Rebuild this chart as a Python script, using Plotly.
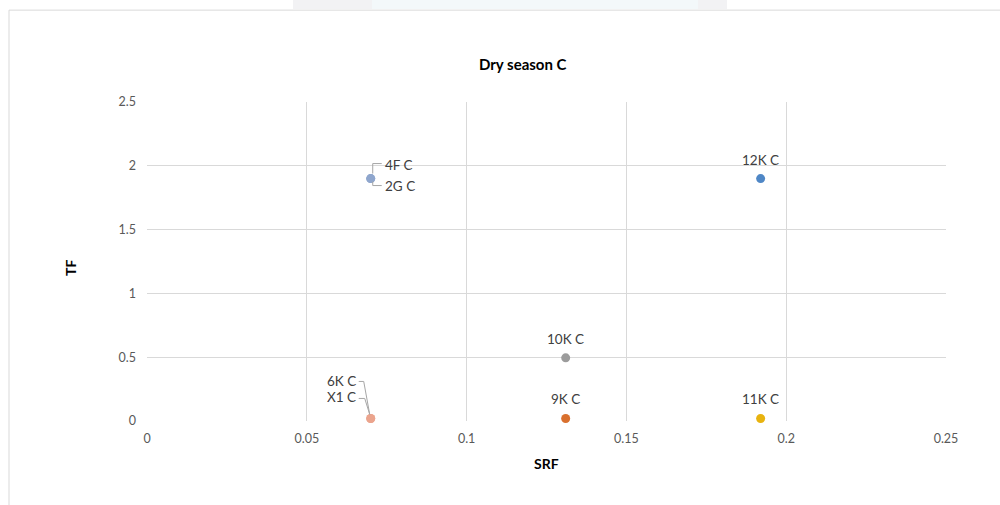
import plotly.graph_objects as go

# Sample sites and their factors
sites = ["4F C", "2G C", "12K C", "10K C", "9K C", "11K C", "6K C", "X1 C"]
srf = [0.07, 0.07, 0.192, 0.131, 0.131, 0.192, 0.07, 0.07]
tf = [1.9, 1.9, 1.9, 0.495, 0.02, 0.02, 0.02, 0.02]
colors = ["#8FA6CD", "#8FA6CD", "#4F87C6", "#9C9C9C", "#D9702E", "#E8B30F", "#EBA48D", "#EBA48D"]

x_ticks = [0, 0.05, 0.1, 0.15, 0.2, 0.25]
x_tick_text = ["0", "0.05", "0.1", "0.15", "0.2", "0.25"]
y_ticks = [0, 0.5, 1, 1.5, 2, 2.5]
y_tick_text = ["0", "0.5", "1", "1.5", "2", "2.5"]

FONT = "Lato, 'Open Sans', sans-serif"
GRID = "#D9D9D9"

fig = go.Figure()
for name, xv, yv, c in zip(sites, srf, tf, colors):
    fig.add_trace(go.Scatter(
        x=[xv], y=[yv], mode="markers", name=name, cliponaxis=False,
        marker=dict(color=c, size=9, line=dict(width=0)),
        hoverinfo="x+y+name",
    ))

# Label placement (pixel offsets from each point) and leader lines
label_pos = {
    "4F C": dict(xanchor="left", xshift=12, yshift=14),
    "2G C": dict(xanchor="left", xshift=12, yshift=-7),
    "12K C": dict(xanchor="center", xshift=0, yshift=19),
    "10K C": dict(xanchor="center", xshift=0, yshift=19),
    "9K C": dict(xanchor="center", xshift=0, yshift=19),
    "11K C": dict(xanchor="center", xshift=0, yshift=19),
    "6K C": dict(xanchor="right", xshift=-13, yshift=37),
    "X1 C": dict(xanchor="right", xshift=-13, yshift=21),
}
leaders = {
    "4F C": "M 2 5 L 2 15 L 11 15",
    "2G C": "M 2 -3 L 2 -7 L 11 -7",
    "6K C": "M -12 37 L -7 37 L -1 4",
    "X1 C": "M -12 20 L -6 20 L -1 4",
}

annotations = []
shapes = []
for name, xv, yv in zip(sites, srf, tf):
    p = label_pos[name]
    annotations.append(dict(
        x=xv, y=yv, xref="x", yref="y", text=name, showarrow=False,
        xanchor=p["xanchor"], yanchor="middle", xshift=p["xshift"], yshift=p["yshift"],
        font=dict(family=FONT, size=13.5, color="#404040"),
    ))
    if name in leaders:
        shapes.append(dict(
            type="path", xref="x", yref="y", xsizemode="pixel", ysizemode="pixel",
            xanchor=xv, yanchor=yv, path=leaders[name],
            line=dict(color="#A6A6A6", width=1),
        ))

# Chart-area frame
shapes.append(dict(type="rect", xref="paper", yref="paper",
                   x0=-0.1727, x1=1.08, y0=-0.3, y1=1.288,
                   line=dict(color="#D9D9D9", width=1), fillcolor="rgba(0,0,0,0)", layer="below"))
# Faint banner strip above the frame
strip = [(293, 372, "rgba(205,205,210,0.25)"),
         (372, 698, "rgba(220,235,242,0.35)"),
         (698, 727, "rgba(205,205,210,0.25)")]
for a, b, col in strip:
    shapes.append(dict(type="rect", xref="paper", yref="paper",
                       x0=(a - 147) / 799, x1=(b - 147) / 799, y0=(421 - 9) / 319, y1=1.33,
                       line=dict(width=0), fillcolor=col, layer="below"))

annotations.append(dict(
    text="<b>Dry season C</b>", xref="paper", yref="paper",
    x=(523 - 147) / 799, y=(421 - 64) / 319, showarrow=False,
    xanchor="center", yanchor="middle",
    font=dict(family=FONT, size=15, color="#000000"),
))
annotations.append(dict(
    text="<b>SRF</b>", xref="paper", yref="paper",
    x=0.5, y=(421 - 463) / 319, showarrow=False,
    xanchor="center", yanchor="middle",
    font=dict(family=FONT, size=14, color="#000000"),
))
annotations.append(dict(
    text="<b>TF</b>", xref="paper", yref="paper",
    x=(70 - 147) / 799, y=(421 - 268) / 319, showarrow=False,
    xanchor="center", yanchor="middle", textangle=-90,
    font=dict(family=FONT, size=14, color="#000000"),
))

fig.update_layout(
    width=1000, height=505,
    margin=dict(l=147, r=54, t=102, b=84),
    paper_bgcolor="white", plot_bgcolor="white",
    showlegend=False,
    annotations=annotations, shapes=shapes,
    xaxis=dict(
        range=[0, 0.25], tickvals=x_ticks, ticktext=x_tick_text,
        showgrid=True, gridcolor=GRID, gridwidth=1,
        zeroline=False, showline=False, ticks="", ticklabelstandoff=8,
        tickfont=dict(family=FONT, size=12.5, color="#595959"),
    ),
    yaxis=dict(
        range=[0, 2.5], tickvals=y_ticks, ticktext=y_tick_text,
        showgrid=True, gridcolor=GRID, gridwidth=1,
        zeroline=False, showline=False, ticks="", ticklabelstandoff=10,
        tickfont=dict(family=FONT, size=12.5, color="#595959"),
    ),
)

fig.write_html("out.html")
